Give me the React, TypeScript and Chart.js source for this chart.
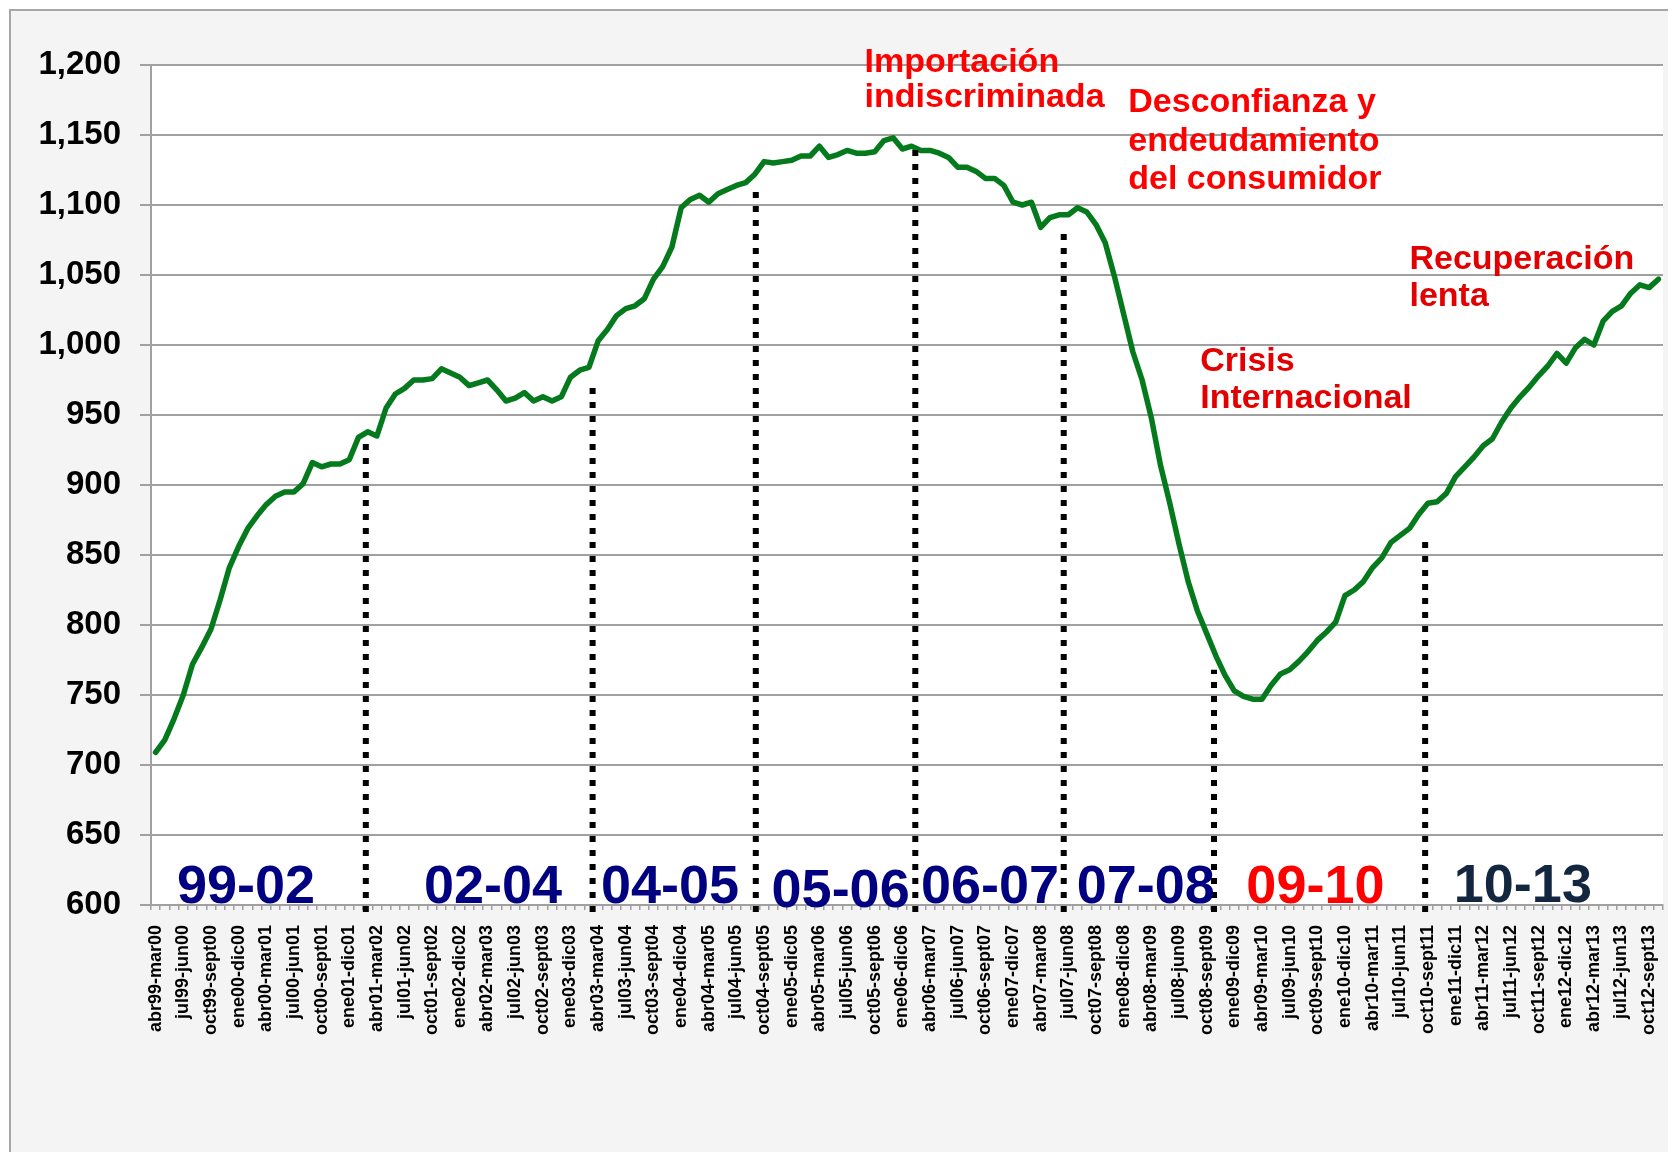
import React, { useEffect, useRef } from "react";
import { Chart, registerables } from "chart.js";

Chart.register(...registerables);

// ---- data ----
const monthNames = ["ene", "feb", "mar", "abr", "may", "jun", "jul", "ago", "sept", "oct", "nov", "dic"];
const firstStartMonth = 3; // abr
const firstStartYear = 1999;

const values = [
  709, 718, 733, 750, 772, 784, 797, 818, 841, 856,
  869, 878, 886, 892, 895, 895, 901, 916, 913, 915,
  915, 918, 934, 938, 935, 955, 965, 969, 975, 975,
  976, 983, 980, 977, 971, 973, 975, 968, 960, 962,
  966, 960, 963, 960, 963, 977, 982, 984, 1003, 1011,
  1021, 1026, 1028, 1033, 1047, 1056, 1070, 1098, 1104, 1107,
  1102, 1108, 1111, 1114, 1116, 1122, 1131, 1130, 1131, 1132,
  1135, 1135, 1142, 1134, 1136, 1139, 1137, 1137, 1138, 1146,
  1148, 1140, 1142, 1139, 1139, 1137, 1134, 1127, 1127, 1124,
  1119, 1119, 1114, 1102, 1100, 1102, 1084, 1091, 1093, 1093,
  1098, 1095, 1086, 1073, 1049, 1022, 995, 975, 948, 914,
  887, 858, 831, 810, 794, 778, 764, 753, 749, 747,
  747, 757, 765, 768, 774, 781, 789, 795, 802, 821,
  825, 831, 841, 848, 859, 864, 869, 879, 887, 888,
  894, 906, 913, 920, 928, 933, 945, 955, 963, 970,
  978, 985, 994, 987, 998, 1004, 1000, 1017, 1024, 1028,
  1037, 1043, 1041, 1047,
];

const yTicks = [600, 650, 700, 750, 800, 850, 900, 950, 1000, 1050, 1100, 1150, 1200];

const periodNames = ["99-02", "02-04", "04-05", "05-06", "06-07", "07-08", "09-10", "10-13"];
const noteTexts = [
  ["Importación", "indiscriminada"],
  ["Desconfianza y", "endeudamiento", "del consumidor"],
  ["Crisis", "Internacional"],
  ["Recuperación", "lenta"],
];
// dividers: category position and top value of dotted lines
const dividerAt = [22.8, 47.4, 65.1, 82.4, 98.5, 114.8, 137.7];
const dividerTop = [930, 975, 1114, 1143, 1085, 768, 863];

// ---- derived ----
const yy = (y: number) => String(y % 100).padStart(2, "0");
const categories = values.map((_, i) => {
  const s = firstStartMonth + i;
  const e = s + 11;
  return (
    monthNames[s % 12] + yy(firstStartYear + Math.floor(s / 12)) + "-" +
    monthNames[e % 12] + yy(firstStartYear + Math.floor(e / 12))
  );
});

// ---- layout / style of overlays ----
const FONT = '"Liberation Sans", Arial, Helvetica, sans-serif';
const periodLayout = [
  { at: 9.8, base: 601.5, color: "#000080" },
  { at: 36.6, base: 601.5, color: "#000080" },
  { at: 55.8, base: 601.5, color: "#000080" },
  { at: 74.3, base: 598.5, color: "#000080" },
  { at: 90.5, base: 601.5, color: "#000080" },
  { at: 107.4, base: 601.5, color: "#000080" },
  { at: 125.8, base: 601.5, color: "#ff0000" },
  { at: 148.3, base: 602, color: "#13263f" },
];
const noteLayout = [
  { at: 76.9, base: [1195, 1170], color: "#ff0000" },
  { at: 105.5, base: [1166.3, 1138.8, 1111.4], color: "#ff0000" },
  { at: 113.3, base: [981.3, 954.8], color: "#e20000" },
  { at: 136.0, base: [1054.2, 1028], color: "#e20000" },
];

const overlayPlugin = {
  id: "overlays",
  beforeDraw(chart: any) {
    const { ctx, chartArea } = chart;
    ctx.save();
    ctx.fillStyle = "#ffffff";
    ctx.fillRect(chartArea.left, chartArea.top, chartArea.right - chartArea.left, chartArea.bottom - chartArea.top);
    ctx.restore();
  },
  afterDraw(chart: any) {
    const { ctx } = chart;
    const xs = chart.scales.x;
    const ys = chart.scales.y;
    ctx.save();
    // dotted dividers
    ctx.strokeStyle = "#000000";
    ctx.lineWidth = 6;
    ctx.lineCap = "butt";
    ctx.setLineDash([6, 8]);
    dividerAt.forEach((at, k) => {
      const x = xs.getPixelForValue(at);
      const yb = ys.getPixelForValue(600) + 7;
      const yt = ys.getPixelForValue(dividerTop[k]);
      ctx.beginPath();
      ctx.moveTo(x, yb);
      ctx.lineTo(x, yt);
      ctx.stroke();
    });
    ctx.setLineDash([]);
    // period labels
    ctx.font = `bold 54px ${FONT}`;
    ctx.textAlign = "center";
    ctx.textBaseline = "alphabetic";
    periodNames.forEach((t, k) => {
      const p = periodLayout[k];
      ctx.fillStyle = p.color;
      ctx.fillText(t, xs.getPixelForValue(p.at), ys.getPixelForValue(p.base));
    });
    // notes
    ctx.font = `bold 34px ${FONT}`;
    ctx.textAlign = "left";
    noteTexts.forEach((lines, k) => {
      const n = noteLayout[k];
      ctx.fillStyle = n.color;
      lines.forEach((line, li) => {
        ctx.fillText(line, xs.getPixelForValue(n.at), ys.getPixelForValue(n.base[li]));
      });
    });
    ctx.restore();
  },
};

export default function App() {
  const ref = useRef<HTMLCanvasElement | null>(null);

  useEffect(() => {
    if (!ref.current) return;
    const chart = new Chart(ref.current, {
      type: "line",
      data: {
        labels: categories,
        datasets: [
          {
            data: values,
            borderColor: "#057a1d",
            borderWidth: 5.5,
            pointRadius: 0,
            tension: 0,
            borderJoinStyle: "round",
            borderCapStyle: "round",
            fill: false,
          },
        ],
      },
      options: {
        animation: false,
        responsive: false,
        maintainAspectRatio: false,
        devicePixelRatio: 1,
        layout: { padding: { left: 0, top: 65, right: 5, bottom: 0 } },
        plugins: { legend: { display: false }, tooltip: { enabled: false } },
        scales: {
          x: {
            type: "category",
            offset: true,
            grid: {
              display: true,
              offset: true,
              drawOnChartArea: false,
              drawTicks: true,
              tickLength: 5,
              color: "#a0a0a0",
              lineWidth: 1.5,
            },
            border: { display: true, color: "#a0a0a0", width: 2 },
            ticks: {
              autoSkip: false,
              minRotation: 90,
              maxRotation: 90,
              padding: 15,
              color: "#000000",
              font: { family: FONT, size: 18, weight: "bold" },
              callback: (_v: any, i: number) => (i % 3 === 0 ? categories[i] : ""),
            },
            afterFit: (s: any) => {
              s.height = 1152 - 905;
              s.paddingLeft = 0;
              s.paddingRight = 0;
            },
          },
          y: {
            min: 600,
            max: 1200,
            afterBuildTicks: (s: any) => {
              s.ticks = yTicks.map((v) => ({ value: v }));
            },
            grid: {
              color: "#a0a0a0",
              lineWidth: 2,
              drawTicks: true,
              tickLength: 11,
            },
            border: { display: true, color: "#a0a0a0", width: 2 },
            ticks: {
              padding: 19,
              color: "#000000",
              font: { family: FONT, size: 33, weight: "bold" },
              callback: (v: any) => Number(v).toLocaleString("en-US"),
            },
            afterFit: (s: any) => {
              s.width = 151;
            },
          },
        },
      },
      plugins: [overlayPlugin],
    } as any);
    return () => chart.destroy();
  }, []);

  return (
    <div
      style={{
        position: "fixed",
        left: 0,
        top: 0,
        width: 1668,
        height: 1152,
        background: "#ffffff",
        overflow: "hidden",
      }}
    >
      <div
        style={{
          position: "absolute",
          left: 9,
          top: 9,
          width: 1700,
          height: 1200,
          borderLeft: "2px solid #a6a6a6",
          borderTop: "2px solid #a6a6a6",
          background: "#f4f4f4",
        }}
      />
      <canvas
        ref={ref}
        width={1668}
        height={1152}
        style={{ position: "absolute", left: 0, top: 0, width: 1668, height: 1152 }}
      />
    </div>
  );
}
